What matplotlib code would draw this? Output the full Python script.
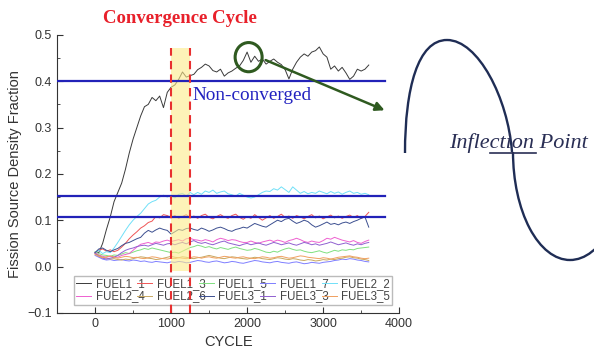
import numpy as np
import matplotlib
matplotlib.use("Agg")
import matplotlib.pyplot as plt
from matplotlib.patches import Arc, Ellipse, PathPatch
from matplotlib.path import Path

# cycle grid for all fuel series
cycle = np.arange(0, 3601, 50)

fuel1_1 = [0.030, 0.030, 0.050, 0.080, 0.107, 0.140, 0.160, 0.180, 0.210, 0.245,
           0.275, 0.300, 0.325, 0.345, 0.350, 0.365, 0.358, 0.368, 0.343, 0.376,
           0.387, 0.392, 0.404, 0.420, 0.409, 0.412, 0.415, 0.425, 0.430, 0.437,
           0.433, 0.423, 0.420, 0.426, 0.411, 0.418, 0.422, 0.428, 0.433, 0.445,
           0.463, 0.441, 0.454, 0.443, 0.448, 0.437, 0.443, 0.448, 0.441, 0.436,
           0.425, 0.405, 0.426, 0.441, 0.452, 0.459, 0.454, 0.463, 0.466, 0.474,
           0.459, 0.452, 0.426, 0.433, 0.422, 0.430, 0.418, 0.404, 0.411, 0.426,
           0.422, 0.426, 0.435]
fuel1_3 = [0.030, 0.035, 0.038, 0.033, 0.036, 0.032, 0.035, 0.042, 0.050, 0.060,
           0.068, 0.075, 0.083, 0.088, 0.095, 0.098, 0.108, 0.105, 0.112, 0.110,
           0.106, 0.110, 0.104, 0.108, 0.112, 0.105, 0.109, 0.104, 0.110, 0.113,
           0.106, 0.103, 0.108, 0.112, 0.107, 0.104, 0.110, 0.113, 0.106, 0.102,
           0.108, 0.104, 0.112, 0.106, 0.100, 0.105, 0.110, 0.104, 0.108, 0.113,
           0.106, 0.109, 0.104, 0.110, 0.107, 0.103, 0.108, 0.112, 0.105, 0.109,
           0.103, 0.107, 0.111, 0.105, 0.109, 0.104, 0.108, 0.111, 0.106, 0.110,
           0.104, 0.108, 0.117]
fuel1_5 = [0.032, 0.028, 0.025, 0.024, 0.022, 0.025, 0.024, 0.027, 0.030, 0.028,
           0.031, 0.034, 0.036, 0.039, 0.037, 0.040, 0.038, 0.036, 0.034, 0.032,
           0.030, 0.031, 0.029, 0.033, 0.037, 0.041, 0.043, 0.046, 0.044, 0.041,
           0.043, 0.040, 0.038, 0.041, 0.039, 0.037, 0.040, 0.042, 0.039, 0.037,
           0.035, 0.036, 0.039, 0.037, 0.034, 0.031, 0.030, 0.033, 0.031, 0.035,
           0.038, 0.040, 0.037, 0.035, 0.036, 0.033, 0.031, 0.030, 0.032, 0.034,
           0.031, 0.029, 0.032, 0.035, 0.033, 0.036, 0.035, 0.037, 0.036, 0.039,
           0.040, 0.041, 0.042]
fuel1_7 = [0.024, 0.020, 0.016, 0.014, 0.015, 0.013, 0.014, 0.015, 0.013, 0.012,
           0.014, 0.013, 0.011, 0.012, 0.010, 0.009, 0.011, 0.010, 0.009, 0.008,
           0.010, 0.009, 0.011, 0.010, 0.008, 0.009, 0.011, 0.013, 0.012, 0.010,
           0.009, 0.011, 0.012, 0.010, 0.008, 0.009, 0.011, 0.010, 0.008, 0.007,
           0.009, 0.011, 0.013, 0.012, 0.010, 0.009, 0.008, 0.010, 0.011, 0.009,
           0.008, 0.007, 0.009, 0.010, 0.008, 0.006, 0.007, 0.009, 0.008, 0.007,
           0.009, 0.010, 0.011, 0.013, 0.014, 0.016, 0.015, 0.017, 0.016, 0.014,
           0.013, 0.011, 0.010]
fuel2_2 = [0.030, 0.035, 0.028, 0.032, 0.030, 0.040, 0.052, 0.065, 0.078, 0.090,
           0.100, 0.108, 0.115, 0.125, 0.135, 0.140, 0.143, 0.150, 0.154, 0.150,
           0.154, 0.148, 0.156, 0.158, 0.152, 0.160, 0.155, 0.160, 0.156, 0.163,
           0.160, 0.165, 0.158, 0.161, 0.163, 0.157, 0.155, 0.152, 0.158, 0.154,
           0.150, 0.148, 0.150, 0.155, 0.160, 0.163, 0.162, 0.168, 0.165, 0.172,
           0.166, 0.160, 0.172, 0.165, 0.158, 0.162, 0.157, 0.160, 0.158, 0.163,
           0.160, 0.157, 0.162, 0.158, 0.161, 0.156, 0.160, 0.163, 0.158, 0.160,
           0.156, 0.158, 0.155]
fuel2_4 = [0.030, 0.025, 0.022, 0.020, 0.022, 0.021, 0.020, 0.024, 0.026, 0.028,
           0.035, 0.042, 0.048, 0.050, 0.052, 0.049, 0.053, 0.052, 0.055, 0.057,
           0.054, 0.056, 0.058, 0.055, 0.060, 0.061, 0.058, 0.057, 0.055, 0.058,
           0.056, 0.053, 0.058, 0.061, 0.059, 0.056, 0.058, 0.057, 0.054, 0.052,
           0.052, 0.055, 0.052, 0.050, 0.053, 0.055, 0.057, 0.054, 0.057, 0.055,
           0.052, 0.056, 0.058, 0.061, 0.058, 0.054, 0.052, 0.055, 0.053, 0.052,
           0.056, 0.061, 0.059, 0.063, 0.060, 0.057, 0.055, 0.053, 0.056, 0.052,
           0.050, 0.054, 0.057]
fuel2_6 = [0.028, 0.024, 0.020, 0.018, 0.016, 0.017, 0.015, 0.014, 0.016, 0.015,
           0.017, 0.019, 0.021, 0.020, 0.018, 0.017, 0.015, 0.016, 0.018, 0.020,
           0.022, 0.020, 0.019, 0.021, 0.020, 0.018, 0.017, 0.019, 0.020, 0.022,
           0.024, 0.022, 0.020, 0.018, 0.017, 0.019, 0.021, 0.020, 0.018, 0.017,
           0.016, 0.018, 0.020, 0.019, 0.017, 0.016, 0.015, 0.017, 0.019, 0.018,
           0.016, 0.015, 0.017, 0.016, 0.014, 0.013, 0.015, 0.014, 0.012, 0.013,
           0.015, 0.014, 0.016, 0.015, 0.017, 0.018, 0.020, 0.021, 0.019, 0.018,
           0.016, 0.015, 0.013]
fuel3_1 = [0.030, 0.038, 0.040, 0.035, 0.032, 0.036, 0.039, 0.045, 0.050, 0.052,
           0.056, 0.060, 0.063, 0.072, 0.078, 0.074, 0.079, 0.083, 0.080, 0.078,
           0.070, 0.075, 0.080, 0.078, 0.082, 0.083, 0.080, 0.078, 0.083, 0.080,
           0.076, 0.079, 0.083, 0.085, 0.082, 0.078, 0.076, 0.080, 0.082, 0.085,
           0.083, 0.088, 0.093, 0.090, 0.087, 0.085, 0.090, 0.095, 0.100, 0.097,
           0.102, 0.104, 0.098, 0.093, 0.096, 0.100, 0.097, 0.090, 0.085, 0.088,
           0.092, 0.096, 0.091, 0.093, 0.090, 0.094, 0.096, 0.093, 0.097, 0.100,
           0.104, 0.107, 0.085]
fuel3_3 = [0.028, 0.022, 0.018, 0.016, 0.018, 0.020, 0.024, 0.030, 0.035, 0.038,
           0.040, 0.043, 0.045, 0.046, 0.044, 0.047, 0.050, 0.048, 0.046, 0.049,
           0.050, 0.047, 0.050, 0.052, 0.049, 0.053, 0.056, 0.052, 0.050, 0.052,
           0.049, 0.047, 0.050, 0.053, 0.055, 0.051, 0.049, 0.047, 0.045, 0.048,
           0.050, 0.047, 0.049, 0.051, 0.048, 0.046, 0.049, 0.052, 0.050, 0.047,
           0.049, 0.051, 0.048, 0.046, 0.049, 0.052, 0.050, 0.047, 0.049, 0.046,
           0.048, 0.050, 0.053, 0.050, 0.047, 0.049, 0.051, 0.048, 0.046, 0.049,
           0.047, 0.050, 0.052]
fuel3_5 = [0.026, 0.022, 0.019, 0.021, 0.023, 0.020, 0.018, 0.020, 0.022, 0.021,
           0.019, 0.020, 0.018, 0.017, 0.019, 0.021, 0.020, 0.018, 0.017, 0.016,
           0.018, 0.017, 0.019, 0.018, 0.017, 0.019, 0.021, 0.020, 0.018, 0.020,
           0.021, 0.019, 0.018, 0.020, 0.022, 0.021, 0.019, 0.018, 0.020, 0.021,
           0.019, 0.018, 0.017, 0.019, 0.021, 0.020, 0.018, 0.019, 0.021, 0.022,
           0.020, 0.018, 0.019, 0.021, 0.023, 0.022, 0.020, 0.019, 0.018, 0.017,
           0.019, 0.018, 0.016, 0.018, 0.020, 0.021, 0.022, 0.023, 0.021, 0.020,
           0.018, 0.017, 0.018]

names = ["FUEL1_1", "FUEL1_3", "FUEL1_5", "FUEL1_7", "FUEL2_2",
         "FUEL2_4", "FUEL2_6", "FUEL3_1", "FUEL3_3", "FUEL3_5"]
series = [fuel1_1, fuel1_3, fuel1_5, fuel1_7, fuel2_2,
          fuel2_4, fuel2_6, fuel3_1, fuel3_3, fuel3_5]
colors = ["#3a3a3a", "#f05555", "#80e080", "#7f7fff", "#70e0f8",
          "#ee60d0", "#c8a860", "#3c4f90", "#9060d0", "#f0a060"]

ref_levels = [0.4, 0.153, 0.106]
conv_start, conv_end = 1000, 1250

fig = plt.figure(figsize=(5.94, 3.6), dpi=100)
ax = fig.add_axes([0.096, 0.131, 0.576, 0.772])

handles = []
for name, vals, c in zip(names, series, colors):
    h, = ax.plot(cycle, vals, color=c, lw=0.7, label=name)
    handles.append(h)

# convergence window
ax.fill_between([conv_start, conv_end], -0.01, 0.472, color="#fdec8a", alpha=0.6,
                lw=0, zorder=3)
for xv in [conv_start, conv_end]:
    ax.plot([xv, xv], [-0.1, 0.472], color="#e83030", lw=1.5, ls=(0, (4, 2.5)),
            zorder=7, clip_on=False)

for lv in ref_levels:
    ax.plot([-500, 3820], [lv, lv], color="#2222b8", lw=1.6, zorder=4)

# inflection marker and arrow
ax.add_patch(Ellipse((2020, 0.452), 355, 0.063, fill=False, ec="#2f5a20", lw=2.2,
                     zorder=8, clip_on=False))
ax.annotate("", xy=(3842, 0.335), xytext=(2210, 0.448),
            arrowprops=dict(arrowstyle="-|>", color="#2f5a20", lw=1.8,
                            mutation_scale=13),
            annotation_clip=False, zorder=8)

ax.set_xlim(-500, 4000)
ax.set_ylim(-0.1, 0.5)
ax.set_xticks([0, 1000, 2000, 3000, 4000])
ax.set_xticks(np.arange(-500, 4001, 1000), minor=True)
ax.set_yticks([-0.1, 0.0, 0.1, 0.2, 0.3, 0.4, 0.5])
ax.set_yticks(np.arange(-0.05, 0.5, 0.1), minor=True)
ax.tick_params(which="both", direction="in", labelsize=9, colors="#333333")
ax.tick_params(which="major", length=4)
ax.tick_params(which="minor", length=2)
ax.spines["top"].set_visible(False)
ax.spines["right"].set_visible(False)
for s in ["left", "bottom"]:
    ax.spines[s].set_color("#333333")

ax.set_xlabel("CYCLE", fontsize=10.5, family="Liberation Sans", color="#333333")
ax.set_ylabel("Fission Source Density Fraction", fontsize=10.5,
              family="Liberation Sans", color="#333333")
for lab in ax.get_xticklabels() + ax.get_yticklabels():
    lab.set_family("Liberation Sans")

# legend filled row by row, five per row
order = [0, 5, 1, 6, 2, 7, 3, 8, 4, 9]
leg = ax.legend([handles[i] for i in order], [names[i] for i in order],
                ncol=5, loc="lower left", bbox_to_anchor=(0.032, 0.008, 0.965, 0.104),
                mode="expand", handlelength=1.3, handletextpad=0.4,
                columnspacing=0.4, borderpad=0.2, labelspacing=0.05,
                fancybox=False, edgecolor="#aaaaaa",
                prop={"family": "Liberation Sans", "size": 8.3})
leg.set_zorder(5)
for t in leg.get_texts():
    t.set_color("#444444")

ax.text(0.36, 1.06, "Convergence Cycle", transform=ax.transAxes, ha="center",
        va="center", fontsize=13.5, fontweight="bold", family="Liberation Serif",
        color="#e8202a")
ax.text(1280, 0.37, "Non-converged", ha="left", va="center", fontsize=13.8,
        family="Liberation Serif", color="#2222c0")

# right-hand sketch of an inflection point, in pixel coordinates (y up)
ov = fig.add_axes([0, 0, 1, 1], facecolor="none")
ov.set_xlim(0, 594)
ov.set_ylim(0, 360)
ov.axis("off")
upper = Path([(405, 207), (405, 272), (418, 320), (447, 320),
              (478, 320), (508, 262), (512, 208)],
             [Path.MOVETO, Path.CURVE4, Path.CURVE4, Path.CURVE4,
              Path.CURVE4, Path.CURVE4, Path.CURVE4])
ov.add_patch(PathPatch(upper, fill=False, ec="#1f2d55", lw=1.7))
ov.add_patch(Arc((570, 208), 114, 216, theta1=180, theta2=360, color="#1f2d55", lw=1.7))
ov.text(518, 212, "Inflection Point", ha="center", va="baseline", fontsize=16,
        style="italic", family="Liberation Serif", color="#2a2f55")
ov.plot([490, 536], [207, 207], color="#2a2f55", lw=1.2)

fig.savefig("out.png", dpi=100)
